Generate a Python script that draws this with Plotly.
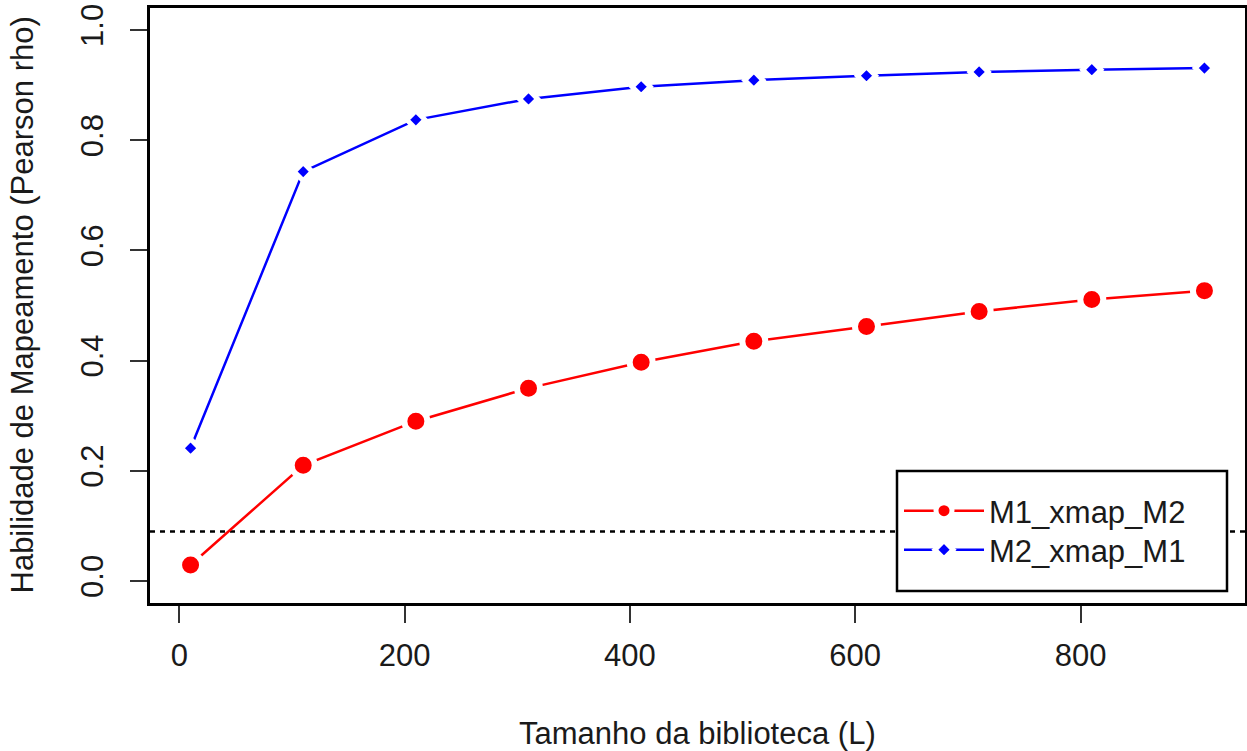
import plotly.graph_objects as go

# Data
L_values = [10, 110, 210, 310, 410, 510, 610, 710, 810, 910]
m1_xmap_m2 = [0.029, 0.210, 0.290, 0.350, 0.397, 0.435, 0.462, 0.489, 0.511, 0.527]
m2_xmap_m1 = [0.241, 0.743, 0.837, 0.875, 0.897, 0.909, 0.917, 0.924, 0.928, 0.931]
threshold = 0.09
x_ticks = [0, 200, 400, 600, 800]
y_ticks = [0.0, 0.2, 0.4, 0.6, 0.8, 1.0]

FONT = "Liberation Sans, Arial, Helvetica, sans-serif"
FS = 31
TXT = "#1a1a1a"

W, H = 1247, 751
ML, MR, MT, MB = 150, 2, 8, 148
PW = W - ML - MR
PH = H - MT - MB


def px_x(px):
    return (px - ML) / PW


def px_y(py):
    return (H - MB - py) / PH


fig = go.Figure()

fig.add_trace(go.Scatter(
    x=L_values, y=m1_xmap_m2, mode="lines+markers", name="M1_xmap_M2",
    line=dict(color="#ff0000", width=2.5),
    marker=dict(symbol="circle", size=23, color="#ff0000",
                line=dict(color="white", width=6)),
    legend="legend",
))
fig.add_trace(go.Scatter(
    x=L_values, y=m2_xmap_m1, mode="lines+markers", name="M2_xmap_M1",
    line=dict(color="#0000ff", width=2.5),
    marker=dict(symbol="diamond", size=14, color="#0000ff",
                line=dict(color="white", width=5)),
    legend="legend2",
))

# threshold line
fig.add_shape(type="line", xref="paper", yref="y", x0=0, x1=1,
              y0=threshold, y1=threshold, layer="below",
              line=dict(color="black", width=2.5, dash="5px,5px"))

# legend frame
fig.add_shape(type="rect", xref="paper", yref="paper",
              x0=px_x(897), x1=px_x(1227), y0=px_y(591), y1=px_y(471),
              layer="above", fillcolor="white",
              line=dict(color="black", width=2.5))

IW = 80
LEG_X = 899
leg_common = dict(
    xanchor="left", yanchor="middle",
    bgcolor="rgba(0,0,0,0)", borderwidth=0,
    font=dict(family=FONT, size=FS, color=TXT),
    itemwidth=IW,
)

fig.update_layout(
    width=W, height=H,
    margin=dict(l=ML, r=MR, t=MT, b=MB, autoexpand=False),
    paper_bgcolor="white", plot_bgcolor="white",
    font=dict(family=FONT, size=FS, color="black"),
    showlegend=True,
    legend=dict(x=px_x(LEG_X), y=px_y(511), **leg_common),
    legend2=dict(x=px_x(LEG_X), y=px_y(550), **leg_common),
    xaxis=dict(
        range=[-26, 946], tickvals=x_ticks, ticktext=[str(v) for v in x_ticks],
        showgrid=False, zeroline=False,
        showline=True, linecolor="black", linewidth=2.5, mirror=True,
        ticks="outside", ticklen=17, tickwidth=1.5, tickcolor="#333333",
        ticklabelstandoff=6,
        tickfont=dict(family=FONT, size=FS, color=TXT),
    ),
    yaxis=dict(
        range=[-0.04, 1.04], tickvals=y_ticks, ticktext=[f"{v:.1f}" for v in y_ticks],
        showgrid=False, zeroline=False,
        showline=True, linecolor="black", linewidth=2.5, mirror=True,
        ticks="outside", ticklen=17, tickwidth=1.5, tickcolor="#333333",
        tickangle=-90, ticklabelstandoff=15,
        tickfont=dict(family=FONT, size=FS, color=TXT),
    ),
    annotations=[
        dict(text="Tamanho da biblioteca (L)", xref="paper", yref="paper",
             x=0.5, y=px_y(733), xanchor="center", yanchor="middle",
             showarrow=False, font=dict(family=FONT, size=FS, color=TXT)),
        dict(text="Habilidade de Mapeamento (Pearson rho)", xref="paper", yref="paper",
             x=px_x(22), y=0.5, xanchor="center", yanchor="middle",
             textangle=-90, showarrow=False,
             font=dict(family=FONT, size=FS, color=TXT)),
    ],
)

fig.write_html("out.html")
